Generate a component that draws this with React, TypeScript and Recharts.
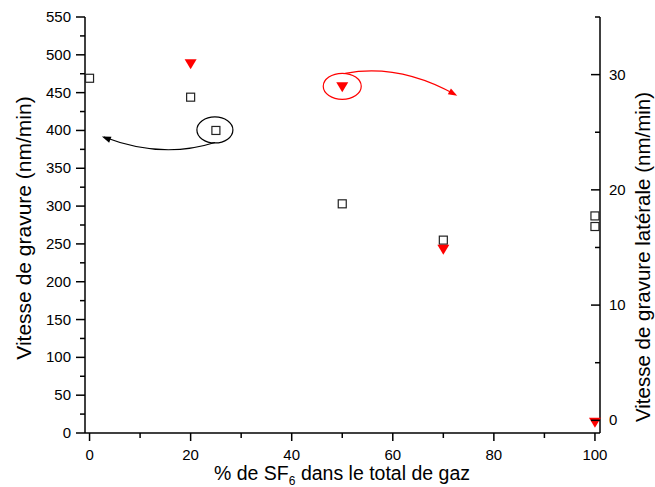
import { ScatterChart, Scatter, XAxis, YAxis, ReferenceDot } from 'recharts';

// % SF6 in the gas mix vs etch rates
const sf6Pct = [0, 20, 25, 50, 70, 100, 100];
const vitesseGravure = [469, 444, 400, 303, 255, 287, 273];
const sf6PctLat = [20, 50, 70, 100];
const vitesseLaterale = [30.9, 28.9, 14.8, -0.2];

const xTicks = [0, 10, 20, 30, 40, 50, 60, 70, 80, 90, 100];
const leftTicks = [0, 25, 50, 75, 100, 125, 150, 175, 200, 225, 250, 275, 300, 325, 350, 375, 400, 425, 450, 475, 500, 525, 550];
const rightTicks = [0, 5, 10, 15, 20, 25, 30, 35];

const FONT = '"Liberation Sans", Arial, sans-serif';
const TICK_FS = 15;

const gravureData = sf6Pct.map((x, i) => ({ x, y: vitesseGravure[i] }));
const lateraleData = sf6PctLat.map((x, i) => ({ x, y: vitesseLaterale[i] }));

const XTick = (props: any) => {
  const { x, y, payload } = props;
  const major = payload.value % 20 === 0;
  return (
    <g>
      <line x1={x} x2={x} y1={y} y2={y + (major ? 8 : 5)} stroke="#000" strokeWidth={1.5} />
      {major && (
        <text x={x} y={y + 27} textAnchor="middle" fontSize={TICK_FS} fontFamily={FONT} fill="#000">
          {payload.value}
        </text>
      )}
    </g>
  );
};

const LeftTick = (props: any) => {
  const { x, y, payload } = props;
  const major = payload.value % 50 === 0;
  return (
    <g>
      <line x1={x} x2={x - (major ? 9 : 5)} y1={y} y2={y} stroke="#000" strokeWidth={1.5} />
      {major && (
        <text x={x - 14} y={y + 5} textAnchor="end" fontSize={TICK_FS} fontFamily={FONT} fill="#000">
          {payload.value}
        </text>
      )}
    </g>
  );
};

const RightTick = (props: any) => {
  const { x, y, payload } = props;
  const major = payload.value % 10 === 0;
  return (
    <g>
      <line x1={x} x2={x - (major ? 9 : 5)} y1={y} y2={y} stroke="#000" strokeWidth={1.5} />
      {major && (
        <text x={x + 9} y={y + 5} textAnchor="start" fontSize={TICK_FS} fontFamily={FONT} fill="#000">
          {payload.value}
        </text>
      )}
    </g>
  );
};

const Square = (props: any) => {
  const { cx, cy } = props;
  return <rect x={cx - 4} y={cy - 4} width={8} height={8} fill="none" stroke="#222" strokeWidth={1.2} />;
};

const TriangleDown = (props: any) => {
  const { cx, cy } = props;
  return <polygon points={`${cx - 6},${cy - 5} ${cx + 6},${cy - 5} ${cx},${cy + 5}`} fill="#ff0000" />;
};

function arrowHead(ex: number, ey: number, dx: number, dy: number, color: string) {
  const len = Math.hypot(dx, dy);
  const ux = dx / len;
  const uy = dy / len;
  const bx = ex - ux * 9;
  const by = ey - uy * 9;
  const px = -uy * 3.2;
  const py = ux * 3.2;
  return <polygon points={`${ex},${ey} ${bx + px},${by + py} ${bx - px},${by - py}`} fill={color} />;
}

// circled point + curved arrow (offsets in px relative to the circled point)
const BlackCallout = (props: any) => {
  const { cx, cy } = props;
  return (
    <g>
      <ellipse cx={cx - 1} cy={cy - 0.5} rx={18} ry={13} fill="none" stroke="#000" strokeWidth={1.2} />
      <path
        d={`M${cx - 1},${cy + 12} Q${cx - 54},${cy + 29} ${cx - 112},${cy + 6.5}`}
        fill="none"
        stroke="#000"
        strokeWidth={1.2}
      />
      {arrowHead(cx - 114, cy + 6, -59.5, -23, '#000')}
    </g>
  );
};

const RedCallout = (props: any) => {
  const { cx, cy } = props;
  return (
    <g>
      <ellipse cx={cx} cy={cy - 1} rx={19} ry={13} fill="none" stroke="#ff0000" strokeWidth={1.2} />
      <path
        d={`M${cx + 3},${cy - 14} Q${cx + 57},${cy - 24} ${cx + 113},${cy + 7.3}`}
        fill="none"
        stroke="#ff0000"
        strokeWidth={1.2}
      />
      {arrowHead(cx + 115, cy + 8.4, 58, 32, '#ff0000')}
    </g>
  );
};

const XTitle = () => (
  <text x={342} y={480} textAnchor="middle" fontSize={19.5} fontFamily={FONT} fill="#000">
    % de SF
    <tspan fontSize={12} dy={5}>6</tspan>
    <tspan dy={-5}> dans le total de gaz</tspan>
  </text>
);

const LeftTitle = () => (
  <text
    x={0}
    y={0}
    transform="translate(31, 228) rotate(-90)"
    textAnchor="middle"
    fontSize={21}
    fontFamily={FONT}
    fill="#000"
  >
    Vitesse de gravure (nm/min)
  </text>
);

const RightTitle = () => (
  <text
    x={0}
    y={0}
    transform="translate(650, 257) rotate(-90)"
    textAnchor="middle"
    fontSize={20.5}
    fontFamily={FONT}
    fill="#000"
  >
    Vitesse de gravure latérale (nm/min)
  </text>
);

export default function App() {
  return (
    <div style={{ position: 'absolute', left: 0, top: 0, background: '#fff' }}>
      <ScatterChart width={655} height={487} margin={{ top: 17, right: 0, bottom: 0, left: 0 }}>
        <XAxis
          type="number"
          dataKey="x"
          domain={[-0.9, 101]}
          ticks={xTicks}
          interval={0}
          height={54}
          tickSize={0}
          tickMargin={0}
          tickLine={false}
          tick={<XTick />}
          axisLine={{ stroke: '#000', strokeWidth: 1.5 }}
          label={{ content: () => <XTitle /> }}
        />
        <YAxis
          yAxisId="left"
          type="number"
          dataKey="y"
          domain={[0, 550]}
          ticks={leftTicks}
          interval={0}
          width={85}
          tickSize={0}
          tickMargin={0}
          tickLine={false}
          tick={<LeftTick />}
          axisLine={{ stroke: '#000', strokeWidth: 1.5 }}
          label={{ content: () => <LeftTitle /> }}
        />
        <YAxis
          yAxisId="right"
          orientation="right"
          type="number"
          dataKey="y"
          domain={[-1.1, 35]}
          ticks={rightTicks}
          interval={0}
          width={55}
          tickSize={0}
          tickMargin={0}
          tickLine={false}
          tick={<RightTick />}
          axisLine={{ stroke: '#000', strokeWidth: 1.5 }}
          label={{ content: () => <RightTitle /> }}
        />
        <Scatter yAxisId="left" data={gravureData} shape={<Square />} isAnimationActive={false} />
        <Scatter yAxisId="right" data={lateraleData} shape={<TriangleDown />} isAnimationActive={false} />
        <ReferenceDot yAxisId="left" x={25} y={400} shape={(p: any) => <BlackCallout {...p} />} />
        <ReferenceDot yAxisId="right" x={50} y={28.9} shape={(p: any) => <RedCallout {...p} />} />
      </ScatterChart>
    </div>
  );
}
